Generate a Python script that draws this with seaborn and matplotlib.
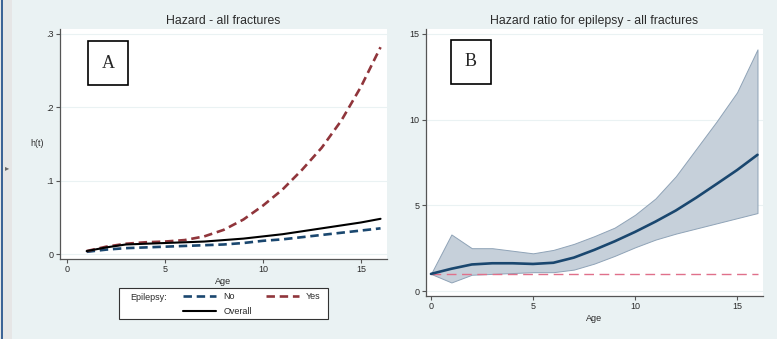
import matplotlib
matplotlib.use('Agg')
import matplotlib.pyplot as plt
from matplotlib.lines import Line2D
from matplotlib.patches import Rectangle
import seaborn as sns

# Panel A - hazard of fracture by epilepsy status
age_a = [1, 2, 3, 4, 5, 6, 7, 8, 9, 10, 11, 12, 13, 14, 15, 16]
haz_no = [0.003, 0.006, 0.008, 0.009, 0.010, 0.011, 0.012, 0.013,
          0.015, 0.018, 0.020, 0.023, 0.026, 0.029, 0.032, 0.035]
haz_yes = [0.004, 0.010, 0.014, 0.016, 0.017, 0.019, 0.024, 0.033,
           0.047, 0.066, 0.088, 0.115, 0.145, 0.182, 0.228, 0.282]
haz_overall = [0.004, 0.009, 0.013, 0.014, 0.015, 0.016, 0.017, 0.019,
               0.021, 0.024, 0.027, 0.031, 0.035, 0.039, 0.043, 0.048]
ticks_a_y = [0, 0.1, 0.2, 0.3]
ticklabels_a_y = ['0', '.1', '.2', '.3']

# Panel B - hazard ratio (epilepsy vs no epilepsy) with 95% CI
age_b = [0, 1, 2, 3, 4, 5, 6, 7, 8, 9, 10, 11, 12, 13, 14, 15, 16]
hr = [1.0, 1.3, 1.55, 1.62, 1.62, 1.58, 1.65, 1.95, 2.4, 2.9, 3.45,
      4.05, 4.7, 5.45, 6.25, 7.06, 7.95]
hr_lo = [1.0, 0.5, 0.95, 1.0, 1.05, 1.1, 1.1, 1.25, 1.6, 2.05, 2.55,
         3.0, 3.35, 3.65, 3.95, 4.25, 4.55]
hr_hi = [1.0, 3.3, 2.5, 2.5, 2.35, 2.2, 2.4, 2.75, 3.2, 3.7, 4.45,
         5.4, 6.7, 8.3, 9.9, 11.6, 14.1]
ticks_b_y = [0, 5, 10, 15]

W, H = 777, 339
bg = '#eaf2f3'
navy = '#1a476f'
maroon = '#90353b'
grey_txt = '#2b2b2b'
small = 6.5

sns.set_theme(style='white')
plt.rcParams['font.family'] = ['Liberation Sans', 'DejaVu Sans']
plt.rcParams['axes.edgecolor'] = '#555555'

fig = plt.figure(figsize=(W / 100, H / 100), dpi=100, facecolor=bg)


def px(x0, y0, x1, y1):
    # pixel box -> figure rect
    return [x0 / W, 1 - y1 / H, (x1 - x0) / W, (y1 - y0) / H]


# screenshot strip at the far left
fig.patches.append(Rectangle((0, 0), 12 / W, 1, transform=fig.transFigure,
                             facecolor='#e6e6e6', edgecolor='none', zorder=0))
fig.patches.append(Rectangle((1 / W, 0), 1.5 / W, 1, transform=fig.transFigure,
                             facecolor='#3d6496', edgecolor='none', zorder=0))
fig.text(5 / W, 1 - 168 / H, '\u25b8', fontsize=6, color='#666666',
         family='DejaVu Sans', va='center')


def style_axes(ax, yticks, ylabels):
    ax.set_facecolor('white')
    for s in ['top', 'right']:
        ax.spines[s].set_visible(False)
    for s in ['left', 'bottom']:
        ax.spines[s].set_color('#555555')
        ax.spines[s].set_linewidth(0.9)
    ax.set_yticks(yticks)
    ax.set_yticklabels(ylabels)
    ax.tick_params(axis='both', direction='out', length=3, width=0.8,
                   color='#555555', labelsize=small, labelcolor=grey_txt, pad=1.5,
                   left=True, bottom=True)
    for t in yticks:
        ax.axhline(t, color=bg, lw=0.8, zorder=0)
    ax.grid(False)


# ---------------- Panel A ----------------
axA = fig.add_axes(px(60, 29, 387, 259))
sns.lineplot(x=age_a, y=haz_no, ax=axA, color=navy, lw=1.9)
axA.lines[-1].set_dashes((3.2, 1.8))
sns.lineplot(x=age_a, y=haz_yes, ax=axA, color=maroon, lw=1.9)
axA.lines[-1].set_dashes((3.2, 1.8))
sns.lineplot(x=age_a, y=haz_overall, ax=axA, color='black', lw=1.5)
axA.set_xlim(-0.36, 16.33)
axA.set_ylim(-0.0068, 0.3068)
axA.set_xticks([0, 5, 10, 15])
style_axes(axA, ticks_a_y, ticklabels_a_y)
axA.set_title('Hazard - all fractures', fontsize=8.8, color=grey_txt, pad=3.5)
axA.set_xlabel('Age', fontsize=small, color=grey_txt, labelpad=2)
axA.set_ylabel('h(t)', fontsize=small, color=grey_txt, rotation=0, va='center', ha='center')
axA.yaxis.set_label_coords(-0.07, 0.5)
axA.text(108 / W, 1 - 63 / H, 'A', transform=fig.transFigure, fontsize=13,
         family=['Liberation Serif', 'DejaVu Serif'], ha='center', va='center',
         bbox=dict(boxstyle='square,pad=0.75', fc='white', ec='black', lw=1.2))

# legend
fig.patches.append(Rectangle((119 / W, 1 - 319 / H), (328 - 119) / W, 31 / H,
                             transform=fig.transFigure, facecolor='white',
                             edgecolor='#333333', lw=0.8, zorder=1))
fig.text(130 / W, 1 - 297 / H, 'Epilepsy:', fontsize=small, color=grey_txt,
         va='center', ha='left', zorder=3)
h_no = Line2D([], [], color=navy, lw=1.9, dashes=(3.2, 1.8))
h_yes = Line2D([], [], color=maroon, lw=1.9, dashes=(3.2, 1.8))
h_all = Line2D([], [], color='black', lw=1.5)
h_nil = Line2D([], [], color='none')
leg = fig.legend([h_no, h_all, h_yes, h_nil], ['No', 'Overall', 'Yes', ''],
                 ncol=2, loc='upper left', bbox_to_anchor=(183 / W, 1 - 292 / H),
                 frameon=False, fontsize=small, handlelength=3.7, handletextpad=0.75,
                 columnspacing=1.6, labelspacing=0.65, borderpad=0,
                 borderaxespad=0)
for t in leg.get_texts():
    t.set_color(grey_txt)
leg.set_zorder(3)

# ---------------- Panel B ----------------
axB = fig.add_axes(px(426, 29, 763, 296))
axB.fill_between(age_b, hr_lo, hr_hi, color='#c6d0da', edgecolor='#8fa3b7',
                 lw=0.7, zorder=1)
sns.lineplot(x=age_b, y=hr, ax=axB, color=navy, lw=1.9, zorder=3)
axB.axhline(1, xmin=0.015, xmax=0.985, color='#e0708a', lw=1.0,
            dashes=(7, 4), zorder=2)
axB.set_xlim(-0.245, 16.27)
axB.set_ylim(-0.29, 15.29)
axB.set_xticks([0, 5, 10, 15])
style_axes(axB, ticks_b_y, [str(t) for t in ticks_b_y])
axB.set_title('Hazard ratio for epilepsy - all fractures', fontsize=8.8,
              color=grey_txt, pad=3.5)
axB.set_xlabel('Age', fontsize=small, color=grey_txt, labelpad=2)
axB.set_ylabel('')
axB.text(471 / W, 1 - 62 / H, 'B', transform=fig.transFigure, fontsize=13,
         family=['Liberation Serif', 'DejaVu Serif'], ha='center', va='center',
         bbox=dict(boxstyle='square,pad=0.75', fc='white', ec='black', lw=1.2))

fig.savefig('out.png', dpi=100, facecolor=bg)
